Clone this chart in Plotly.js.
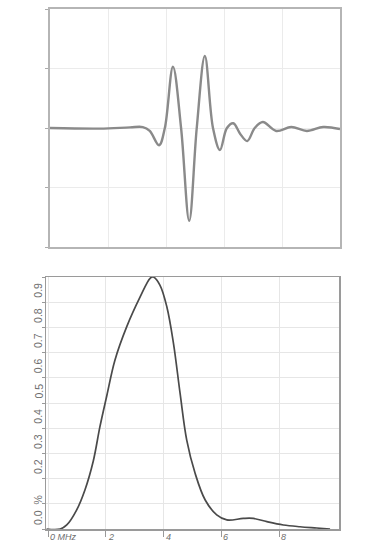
<!DOCTYPE html>
<html><head><meta charset="utf-8">
<script src="https://cdn.plot.ly/plotly-3.0.1.min.js"></script>
<style>html,body{margin:0;padding:0;background:#fff}#chart{width:368px;height:544px}</style>
</head><body><div id="chart"></div>
<script>
// Top: time-domain pulse (arbitrary units)
const pulseTime = [0, 0.86, 1.38, 1.60, 1.72, 1.88, 1.98, 2.12, 2.26, 2.40, 2.53, 2.67, 2.81, 2.93, 3.05, 3.16, 3.28, 3.40, 3.53, 3.67, 3.90, 4.16, 4.43, 4.71, 5.0];
const pulseAmp  = [0, -0.01, 0.01, 0.015, -0.05, -0.29, 0, 1.03, 0, -1.56, 0, 1.21, 0, -0.37, 0, 0.08, -0.1, -0.22, 0, 0.1, -0.05, 0.017, -0.05, 0.017, -0.017];

// Bottom: frequency spectrum
const freqMHz  = [-0.06, 0.41, 0.64, 0.98, 1.27, 1.56, 1.79, 2.03, 2.31, 2.72, 3.18, 3.53, 3.64, 3.87, 4.11, 4.34, 4.57, 4.80, 5.09, 5.44, 5.84, 6.19, 6.76, 7.11, 7.58, 8.15, 8.73, 9.31, 9.77];
const spectrum = [0, 0, 0.016, 0.075, 0.155, 0.27, 0.406, 0.530, 0.67, 0.803, 0.92, 0.995, 1.0, 0.968, 0.882, 0.737, 0.538, 0.353, 0.221, 0.115, 0.056, 0.036, 0.042, 0.042, 0.029, 0.016, 0.009, 0.004, 0];

const freqTickVals = [0, 2, 4, 6, 8];
const freqTickText = ['0 MHz', '2', '4', '6', '8'];
const specGridVals = [0, 0.1, 0.2, 0.3, 0.4, 0.5, 0.6, 0.7, 0.8, 0.9, 1.0];
const specTickVals = [0, 0.2, 0.3, 0.4, 0.5, 0.6, 0.7, 0.8, 0.9];
const specTickText = ['0.0\u00a0\u00a0%', '0.2', '0.3', '0.4', '0.5', '0.6', '0.7', '0.8', '0.9'];

const W = 368, H = 544;
const yLblFont = {family: 'Arial, "Liberation Sans", sans-serif', size: 10.5, color: '#6e6e6e'};
const xLblFont = {family: 'Arial, "Liberation Sans", sans-serif', size: 9, color: '#6e6e6e'};

const annotations = [];
specTickVals.forEach((v, i) => {
  annotations.push({xref: 'paper', yref: 'y2', x: 45 / W, y: v, xanchor: 'right', yanchor: 'bottom',
    text: specTickText[i], showarrow: false, textangle: -90, font: yLblFont, yshift: 3, borderpad: 0});
});
freqTickVals.forEach((v, i) => {
  annotations.push({xref: 'x2', yref: 'paper', x: v, y: (H - 531) / H, xanchor: 'left', yanchor: 'top',
    text: '<i>' + freqTickText[i] + '</i>', showarrow: false, font: xLblFont, xshift: 1, borderpad: 0});
});

const traces = [
  {x: pulseTime, y: pulseAmp, xaxis: 'x', yaxis: 'y', mode: 'lines',
   line: {color: '#8a8a8a', width: 2.4, shape: 'spline', smoothing: 1}, hoverinfo: 'skip'},
  {x: freqMHz, y: spectrum, xaxis: 'x2', yaxis: 'y2', mode: 'lines',
   line: {color: '#4a4a4a', width: 1.7, shape: 'spline', smoothing: 1}, hoverinfo: 'skip'}
];

const layout = {
  width: W, height: H,
  margin: {l: 0, r: 0, t: 0, b: 0},
  paper_bgcolor: '#fff', plot_bgcolor: '#fff',
  showlegend: false,
  xaxis: {domain: [50 / W, 340 / W], anchor: 'y', range: [0, 5], dtick: 1, tick0: 0,
    showgrid: true, gridcolor: '#ebebeb', gridwidth: 1, zeroline: false,
    showline: true, mirror: true, linecolor: '#b5b5b5', linewidth: 2,
    showticklabels: false, ticks: ''},
  yaxis: {domain: [(H - 247) / H, (H - 9) / H], anchor: 'x', range: [-2, 2], dtick: 1, tick0: 0,
    showgrid: true, gridcolor: '#ebebeb', gridwidth: 1, zeroline: false,
    showline: true, mirror: true, linecolor: '#b5b5b5', linewidth: 2,
    showticklabels: false, ticks: 'outside', ticklen: 3, tickcolor: '#aaa', tickwidth: 1},
  xaxis2: {domain: [46 / W, 339 / W], anchor: 'y2', range: [-0.08, 10.08],
    tickmode: 'array', tickvals: freqTickVals,
    showgrid: true, gridcolor: '#e6e6e6', gridwidth: 1, zeroline: false,
    showline: true, mirror: true, linecolor: '#9a9a9a', linewidth: 1.5,
    showticklabels: false, ticks: 'outside', ticklen: 6, tickcolor: '#999', tickwidth: 1},
  yaxis2: {domain: [(H - 529) / H, (H - 277) / H], anchor: 'x2', range: [0, 1],
    tickmode: 'array', tickvals: specGridVals,
    showgrid: true, gridcolor: '#e6e6e6', gridwidth: 1, zeroline: false,
    showline: true, mirror: true, linecolor: '#9a9a9a', linewidth: 1.5,
    showticklabels: false, ticks: 'outside', ticklen: 3, tickcolor: '#999', tickwidth: 1},
  annotations: annotations
};

Plotly.newPlot('chart', traces, layout, {staticPlot: true, displayModeBar: false});
</script>
</body></html>
